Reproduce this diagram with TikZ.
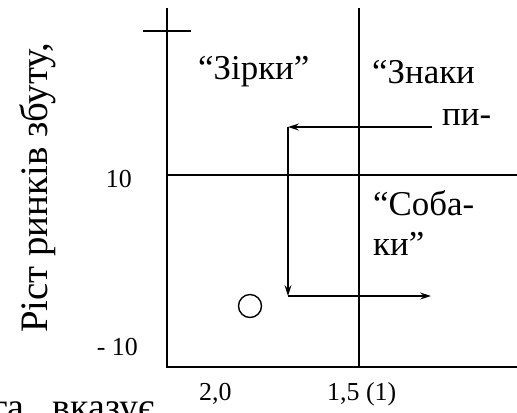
\documentclass[tikz,border=0pt]{standalone}
\usepackage{fontspec}
\setmainfont{Liberation Serif}
\usetikzlibrary{arrows.meta}
\begin{document}
\begin{tikzpicture}[x=1bp,y=-1bp,
  ln/.style={line width=1.4bp},
  arr/.style={line width=1.4bp,-{Stealth[length=11bp,width=7bp,inset=4bp]}},
  quad/.style={inner sep=0pt,font=\fontsize{35}{35}\selectfont},
  lab/.style={inner sep=0pt,font=\fontsize{26}{26}\selectfont}]
\useasboundingbox (0,0) rectangle (517,412);
\clip (0,0) rectangle (517,412);
% axes
\coordinate (yt) at (167,8);
\coordinate (o) at (167,367);
\coordinate (xr) at (517,367);
\coordinate (cbl) at (143,31);
\coordinate (cbr) at (191,31);
\coordinate (hl) at (167,175);
\coordinate (hr) at (517,175);
\coordinate (vt) at (359,8);
\coordinate (vb) at (359,367);
\draw[ln] (yt) -- (o) -- (xr);
\draw[ln] (cbl) -- (cbr);
\draw[ln] (hl) -- (hr);
\draw[ln] (vt) -- (vb);
% arrows
\coordinate (a1) at (432,127);
\coordinate (a2) at (288,127);
\coordinate (a3) at (288,296);
\coordinate (a4) at (431,296);
\draw[arr] (a1) -- (a2);
\draw[arr] (a2) -- (a3);
\draw[arr] (a3) -- (a4);
% circle
\node[draw,circle,line width=1.4bp,minimum size=23bp,inner sep=0pt] (c) at (250,306) {};
% texts
\node[quad,anchor=base west] (zirky) at (198,79) {“Зірки”};
\node[quad,anchor=base west] (znaky) at (372,83) {“Знаки};
\node[quad,anchor=base west] (py) at (442,125) {пи-};
\node[quad,anchor=base west] (soba) at (373,215) {“Соба-};
\node[quad,anchor=base west] (ky) at (373,255) {ки”};
\node[lab,anchor=base east] (t10) at (132,187) {10};
\node[lab,anchor=base east] (m10) at (138,355) {- 10};
\node[lab,anchor=base west] (x20) at (199,400) {2,0};
\node[lab,anchor=base west] (x15) at (327,400) {1,5 (1)};
\node[inner sep=0pt,anchor=base,rotate=90,font=\fontsize{39}{39}\selectfont] (ylab) at (47,188) {Ріст ринків збуту,};
\node[inner sep=0pt,anchor=base west,font=\fontsize{38}{38}\selectfont] (bot) at (-8,419) {га,\ \ вказує};
\end{tikzpicture}
\end{document}
